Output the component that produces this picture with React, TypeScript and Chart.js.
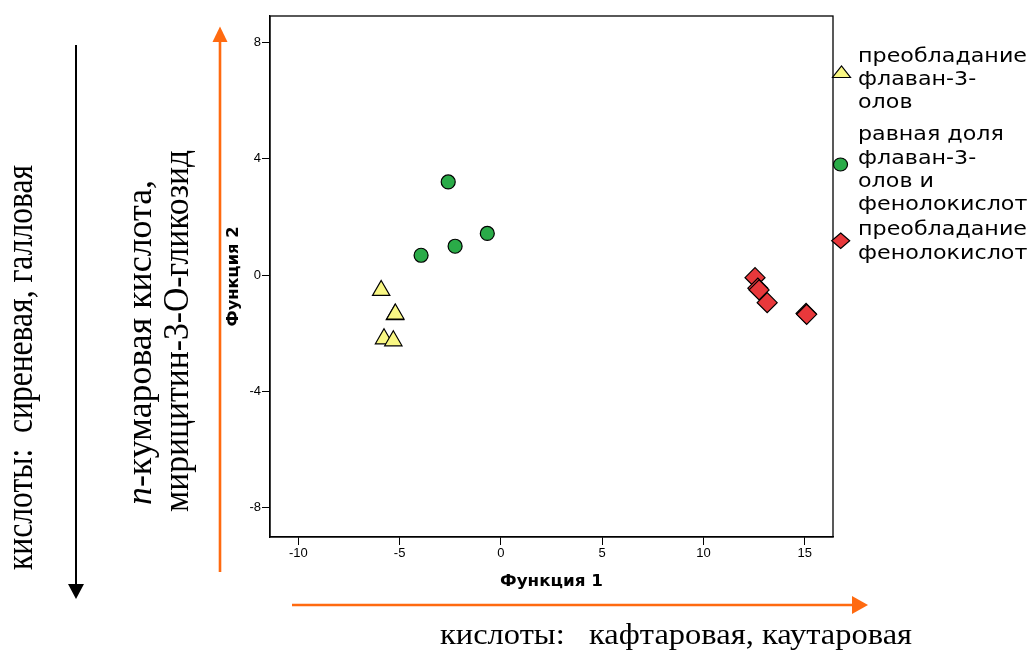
import React, { useEffect, useRef } from "react";
import { Chart, registerables } from "chart.js";

Chart.register(...registerables);

// ---------- data ----------
const groupNames = ["преобладание флаван-3-олов", "равная доля флаван-3-олов и фенолокислот", "преобладание фенолокислот"];
const legendLines = [
  ["преобладание", "флаван-3-", "олов"],
  ["равная доля", "флаван-3-", "олов и", "фенолокислот"],
  ["преобладание", "фенолокислот"],
];
const flavanX = [-5.91, -5.23, -5.21, -5.77, -5.31];
const flavanY = [-0.53, -1.36, -1.34, -2.19, -2.26];
const equalX = [-2.6, -0.67, -2.26, -3.94];
const equalY = [3.2, 1.43, 0.99, 0.68];
const phenolX = [12.55, 12.69, 12.75, 13.15, 15.07, 15.1];
const phenolY = [-0.09, -0.45, -0.51, -0.95, -1.32, -1.35];
const xTicks = [-10, -5, 0, 5, 10, 15];
const yTicks = [-8, -4, 0, 4, 8];
const xTitle = "Функция 1";
const yTitle = "Функция 2";
const bottomNote = "кислоты:   кафтаровая, каутаровая";
const leftNote = "кислоты:  сиреневая, галловая";
const midNoteItalic = "n";
const midNote1 = "-кумаровая кислота,";
const midNote2 = "мирицитин-3-О-гликозид";

const colors = { flavan: "#f9f784", equal: "#2aab48", phenol: "#e8383b" };
const ORANGE = "#ff6a10";

function toPoints(xs: number[], ys: number[]) {
  return xs.map((x, i) => ({ x, y: ys[i] }));
}

function drawStretched(
  ctx: CanvasRenderingContext2D,
  text: string,
  x: number,
  y: number,
  font: string,
  targetLen: number,
  angle: number,
  thick: number,
  center = false
) {
  ctx.save();
  ctx.font = font;
  const w = ctx.measureText(text).width;
  ctx.translate(x, y);
  if (angle) ctx.rotate(angle);
  ctx.scale(targetLen / w, thick);
  ctx.textAlign = "left";
  ctx.textBaseline = "alphabetic";
  ctx.fillText(text, center ? -w / 2 : 0, 0);
  ctx.restore();
}

const annotationPlugin = {
  id: "annotations",
  afterDraw(chart: any) {
    const ctx: CanvasRenderingContext2D = chart.ctx;
    const a = chart.chartArea;
    ctx.save();
    // frame
    ctx.strokeStyle = "#000";
    ctx.lineWidth = 1.3;
    ctx.strokeRect(a.left, a.top, a.right - a.left, a.bottom - a.top);

    // axis titles
    ctx.fillStyle = "#000";
    const titleFont = "bold 15px 'DejaVu Sans'";
    drawStretched(ctx, xTitle, (a.left + a.right) / 2, 586, titleFont, 103, 0, 1, true);
    drawStretched(ctx, yTitle, 238, (a.top + a.bottom) / 2, titleFont, 100, -Math.PI / 2, 1.1, true);

    // legend
    const legFont = "20px 'DejaVu Sans'";
    ctx.font = legFont;
    const legScale = 169 / ctx.measureText("преобладание").width;
    const baselines = [
      [61.5, 85, 108],
      [140, 163.5, 187, 210],
      [235, 258.5],
    ];
    legendLines.forEach((lines, g) => {
      lines.forEach((ln, k) => {
        ctx.font = legFont;
        const w = ctx.measureText(ln).width;
        drawStretched(ctx, ln, 858, baselines[g][k], legFont, w * legScale, 0, 1);
      });
    });
    const ds = chart.data.datasets;
    ctx.lineWidth = 1.2;
    ctx.strokeStyle = "#000";
    // triangle
    ctx.beginPath();
    ctx.moveTo(832.5, 77.5);
    ctx.lineTo(850.5, 77.5);
    ctx.lineTo(841.5, 66);
    ctx.closePath();
    ctx.fillStyle = ds[0].backgroundColor;
    ctx.fill();
    ctx.stroke();
    // circle
    ctx.beginPath();
    ctx.ellipse(840.5, 164.5, 7, 6.5, 0, 0, Math.PI * 2);
    ctx.fillStyle = ds[1].backgroundColor;
    ctx.fill();
    ctx.stroke();
    // diamond
    ctx.beginPath();
    ctx.moveTo(840.7, 233);
    ctx.lineTo(849.7, 240.7);
    ctx.lineTo(840.7, 248.4);
    ctx.lineTo(831.7, 240.7);
    ctx.closePath();
    ctx.fillStyle = ds[2].backgroundColor;
    ctx.fill();
    ctx.stroke();

    // arrows
    ctx.strokeStyle = "#000";
    ctx.fillStyle = "#000";
    ctx.lineWidth = 2;
    ctx.beginPath();
    ctx.moveTo(76, 45);
    ctx.lineTo(76, 586);
    ctx.stroke();
    ctx.beginPath();
    ctx.moveTo(68, 584);
    ctx.lineTo(84, 584);
    ctx.lineTo(76, 599);
    ctx.closePath();
    ctx.fill();
    ctx.strokeStyle = ORANGE;
    ctx.fillStyle = ORANGE;
    ctx.lineWidth = 2.6;
    ctx.beginPath();
    ctx.moveTo(220, 572);
    ctx.lineTo(220, 40);
    ctx.stroke();
    ctx.beginPath();
    ctx.moveTo(212.5, 42);
    ctx.lineTo(227.5, 42);
    ctx.lineTo(220, 26.5);
    ctx.closePath();
    ctx.fill();
    ctx.beginPath();
    ctx.moveTo(292, 605);
    ctx.lineTo(854, 605);
    ctx.stroke();
    ctx.beginPath();
    ctx.moveTo(852, 596);
    ctx.lineTo(852, 614);
    ctx.lineTo(868, 605);
    ctx.closePath();
    ctx.fill();

    // serif notes
    ctx.fillStyle = "#000";
    const serif = "'Liberation Serif'";
    drawStretched(ctx, bottomNote, 440, 644, `30px ${serif}`, 472, 0, 1);
    drawStretched(ctx, leftNote, 32, 570, `34px ${serif}`, 405, -Math.PI / 2, 1.1);
    drawStretched(ctx, midNote2, 188, 512, `34px ${serif}`, 362, -Math.PI / 2, 1.05);
    ctx.save();
    ctx.font = `italic 34px ${serif}`;
    const wn = ctx.measureText(midNoteItalic).width;
    ctx.font = `34px ${serif}`;
    const wr = ctx.measureText(midNote1).width;
    const s = 325 / (wn + wr);
    ctx.translate(151, 505);
    ctx.rotate(-Math.PI / 2);
    ctx.scale(s, 1.05);
    ctx.textAlign = "left";
    ctx.textBaseline = "alphabetic";
    ctx.font = `italic 34px ${serif}`;
    ctx.fillText(midNoteItalic, 0, 0);
    ctx.font = `34px ${serif}`;
    ctx.fillText(midNote1, wn, 0);
    ctx.restore();

    ctx.restore();
  },
};

export default function App() {
  const ref = useRef<HTMLCanvasElement | null>(null);
  useEffect(() => {
    if (!ref.current) return;
    const chart = new Chart(ref.current, {
      type: "scatter",
      data: {
        datasets: [
          {
            label: groupNames[0],
            data: toPoints(flavanX, flavanY),
            pointStyle: "triangle",
            pointRadius: 10,
            backgroundColor: colors.flavan,
            borderColor: "#000",
            borderWidth: 1.2,
          },
          {
            label: groupNames[1],
            data: toPoints(equalX, equalY),
            pointStyle: "circle",
            pointRadius: 7,
            backgroundColor: colors.equal,
            borderColor: "#000",
            borderWidth: 1.2,
          },
          {
            label: groupNames[2],
            data: toPoints(phenolX, phenolY),
            pointStyle: "rectRot",
            pointRadius: 10,
            backgroundColor: colors.phenol,
            borderColor: "#000",
            borderWidth: 1.2,
          },
        ],
      },
      options: {
        animation: false,
        responsive: false,
        devicePixelRatio: 1,
        events: [],
        layout: { padding: { left: 230, top: 16, right: 198, bottom: 74 } },
        plugins: { legend: { display: false }, tooltip: { enabled: false } },
        scales: {
          x: {
            type: "linear",
            min: -11.4,
            max: 16.4,
            afterBuildTicks: (sc: any) => {
              sc.ticks = xTicks.map((v) => ({ value: v }));
            },
            afterFit: (sc: any) => {
              sc.height = 40;
            },
            grid: { display: true, drawOnChartArea: false, drawTicks: true, tickLength: 8, color: "#000", lineWidth: 1 },
            border: { display: true, color: "#000", width: 1.3 },
            ticks: { color: "#000", padding: 1, font: { family: "'Liberation Sans'", size: 13 }, maxRotation: 0 },
          },
          y: {
            type: "linear",
            min: -9.0,
            max: 8.9,
            afterBuildTicks: (sc: any) => {
              sc.ticks = yTicks.map((v) => ({ value: v }));
            },
            afterFit: (sc: any) => {
              sc.width = 40;
            },
            grid: { display: true, drawOnChartArea: false, drawTicks: true, tickLength: 8, color: "#000", lineWidth: 1 },
            border: { display: true, color: "#000", width: 1.3 },
            ticks: { color: "#000", padding: 1, font: { family: "'Liberation Sans'", size: 13 } },
          },
        },
      },
      plugins: [annotationPlugin],
    });
    return () => chart.destroy();
  }, []);
  return (
    <div style={{ position: "absolute", left: 0, top: 0, width: 1031, height: 651, background: "#fff" }}>
      <canvas ref={ref} width={1031} height={651} style={{ display: "block" }} />
    </div>
  );
}
